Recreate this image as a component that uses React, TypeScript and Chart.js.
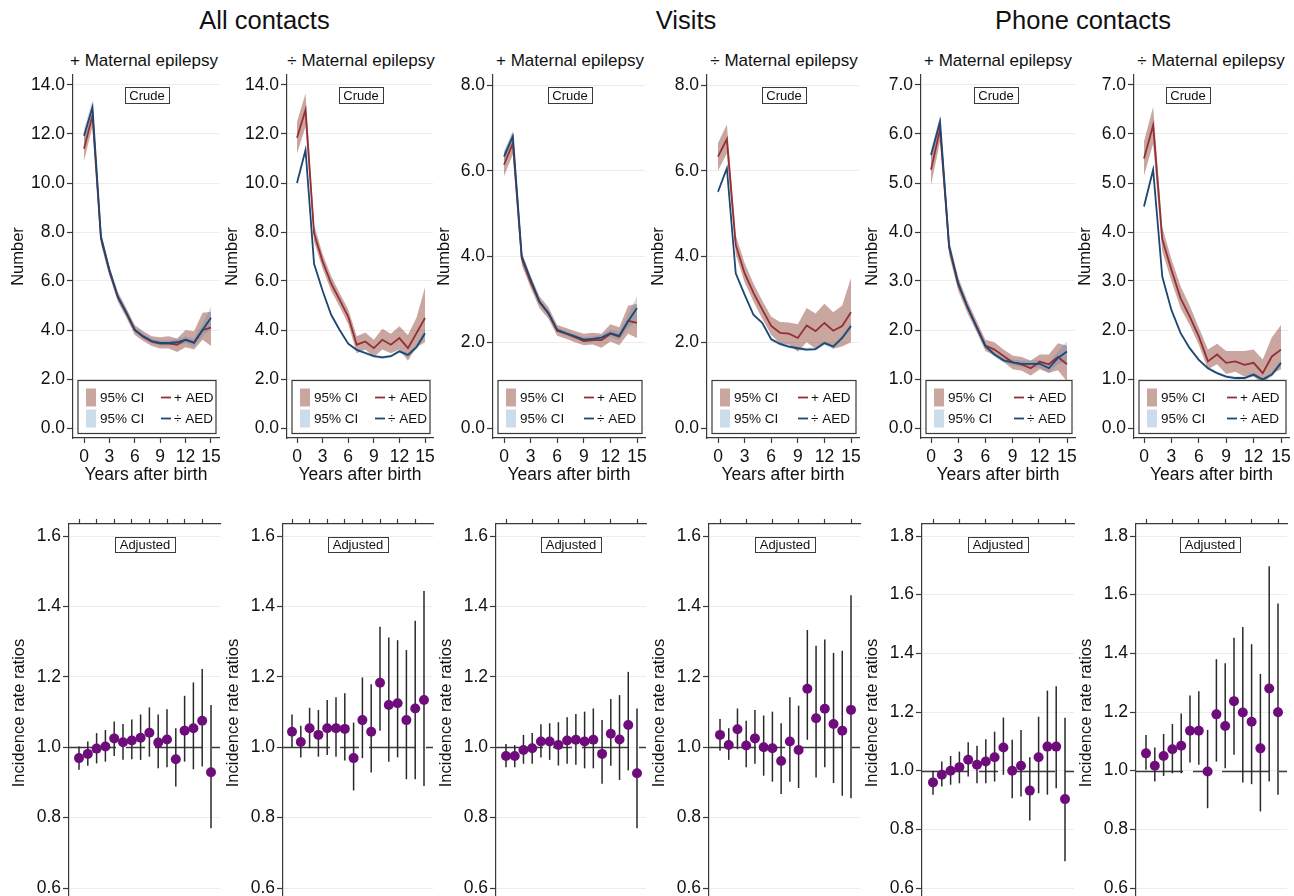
import React, { useEffect, useRef } from 'react';
import { Chart, registerables } from 'chart.js';
Chart.register(...registerables);

const FONT = '"Liberation Sans", Arial, Helvetica, sans-serif';
Chart.defaults.font.family = FONT;
Chart.defaults.color = '#111';

// ---------- DATA ----------
const YEARS = [0, 1, 2, 3, 4, 5, 6, 7, 8, 9, 10, 11, 12, 13, 14, 15];

const X_TICKS_TOP = [0, 3, 6, 9, 12, 15];
const X_TICKS_STEP2 = [0, 2, 4, 6, 8, 10, 12, 14];
const X_TICKS_STEP3 = [0, 3, 6, 9, 12, 15];
const Y_TICKS_ALL = [0, 2, 4, 6, 8, 10, 12, 14];
const Y_TICKS_VISITS = [0, 2, 4, 6, 8];
const Y_TICKS_PHONE = [0, 1, 2, 3, 4, 5, 6, 7];
const IRR_TICKS_A = [0.6, 0.8, 1.0, 1.2, 1.4, 1.6];
const IRR_TICKS_B = [0.6, 0.8, 1.0, 1.2, 1.4, 1.6, 1.8];

const GROUP_TITLES = ['All contacts', 'Visits', 'Phone contacts'];
const SUB_TITLES = ['+ Maternal epilepsy', '÷ Maternal epilepsy', '+ Maternal epilepsy', '÷ Maternal epilepsy', '+ Maternal epilepsy', '÷ Maternal epilepsy'];
const LEGEND_LABELS = ['95% CI', '95% CI', '+ AED', '÷ AED'];

// All contacts, + maternal epilepsy
const ALL_POS_RED_MID = [11.4, 12.75, 7.75, 6.4, 5.35, 4.7, 4.0, 3.72, 3.52, 3.45, 3.45, 3.4, 3.6, 3.5, 4.0, 4.1];
const ALL_POS_RED_LO = [10.9, 12.3, 7.5, 6.2, 5.15, 4.5, 3.8, 3.55, 3.35, 3.25, 3.25, 3.1, 3.3, 3.2, 3.6, 3.35];
const ALL_POS_RED_HI = [11.95, 13.2, 8.0, 6.6, 5.55, 4.9, 4.2, 3.95, 3.75, 3.7, 3.75, 3.65, 4.0, 3.95, 4.7, 4.75];
const ALL_POS_BLUE_MID = [11.93, 13.1, 7.8, 6.45, 5.35, 4.7, 4.0, 3.74, 3.55, 3.47, 3.47, 3.5, 3.6, 3.47, 4.0, 4.5];
const ALL_POS_BLUE_LO = [11.65, 12.8, 7.65, 6.3, 5.22, 4.57, 3.9, 3.64, 3.45, 3.37, 3.37, 3.38, 3.46, 3.3, 3.75, 4.05];
const ALL_POS_BLUE_HI = [12.2, 13.4, 7.95, 6.6, 5.48, 4.83, 4.1, 3.84, 3.65, 3.57, 3.57, 3.62, 3.74, 3.64, 4.25, 4.95];

// All contacts, ÷ maternal epilepsy
const ALL_NEG_RED_MID = [11.85, 12.98, 7.95, 6.8, 5.9, 5.23, 4.55, 3.4, 3.53, 3.26, 3.6, 3.4, 3.67, 3.26, 3.87, 4.49];
const ALL_NEG_RED_LO = [11.2, 12.3, 7.6, 6.5, 5.6, 4.95, 4.25, 3.05, 3.2, 2.9, 3.2, 3.05, 3.2, 2.75, 3.3, 3.5];
const ALL_NEG_RED_HI = [12.5, 13.65, 8.3, 7.1, 6.2, 5.5, 4.85, 3.75, 3.9, 3.6, 4.05, 3.85, 4.15, 3.8, 4.5, 5.75];
const ALL_NEG_BLUE_MID = [10.0, 11.35, 6.7, 5.6, 4.62, 4.0, 3.44, 3.19, 3.06, 2.93, 2.88, 2.93, 3.13, 2.98, 3.3, 3.87];
const ALL_NEG_BLUE_LO = [9.92, 11.26, 6.63, 5.53, 4.56, 3.94, 3.39, 3.14, 3.0, 2.87, 2.82, 2.87, 3.06, 2.9, 3.2, 3.72];
const ALL_NEG_BLUE_HI = [10.08, 11.44, 6.77, 5.67, 4.68, 4.06, 3.49, 3.24, 3.12, 2.99, 2.94, 2.99, 3.2, 3.06, 3.4, 4.02];

// Visits, + maternal epilepsy
const VIS_POS_RED_MID = [6.14, 6.64, 3.95, 3.4, 2.93, 2.68, 2.27, 2.2, 2.12, 2.03, 2.05, 2.05, 2.2, 2.13, 2.5, 2.45];
const VIS_POS_RED_LO = [5.87, 6.38, 3.8, 3.27, 2.8, 2.55, 2.15, 2.08, 2.0, 1.93, 1.95, 1.87, 2.02, 1.93, 2.2, 2.1];
const VIS_POS_RED_HI = [6.42, 6.9, 4.1, 3.55, 3.07, 2.82, 2.4, 2.33, 2.26, 2.2, 2.22, 2.2, 2.42, 2.35, 2.85, 2.9];
const VIS_POS_BLUE_MID = [6.33, 6.8, 4.0, 3.46, 2.95, 2.68, 2.29, 2.21, 2.14, 2.06, 2.08, 2.11, 2.21, 2.15, 2.49, 2.8];
const VIS_POS_BLUE_LO = [6.2, 6.66, 3.93, 3.39, 2.89, 2.62, 2.24, 2.16, 2.09, 2.01, 2.02, 2.05, 2.13, 2.05, 2.33, 2.5];
const VIS_POS_BLUE_HI = [6.46, 6.94, 4.07, 3.53, 3.01, 2.74, 2.34, 2.26, 2.19, 2.11, 2.14, 2.17, 2.29, 2.25, 2.65, 3.08];

// Visits, ÷ maternal epilepsy
const VIS_NEG_RED_MID = [6.33, 6.74, 4.27, 3.61, 3.15, 2.76, 2.38, 2.22, 2.2, 2.1, 2.39, 2.26, 2.45, 2.27, 2.38, 2.7];
const VIS_NEG_RED_LO = [6.0, 6.4, 4.05, 3.4, 2.95, 2.55, 2.17, 1.97, 1.95, 1.78, 2.0, 1.85, 2.0, 1.85, 1.9, 2.0];
const VIS_NEG_RED_HI = [6.65, 7.08, 4.5, 3.85, 3.37, 2.97, 2.6, 2.47, 2.46, 2.42, 2.8, 2.67, 2.9, 2.7, 2.86, 3.5];
const VIS_NEG_BLUE_MID = [5.51, 6.06, 3.61, 3.11, 2.64, 2.45, 2.07, 1.96, 1.9, 1.86, 1.83, 1.84, 1.98, 1.9, 2.1, 2.38];
const VIS_NEG_BLUE_LO = [5.46, 6.01, 3.57, 3.07, 2.6, 2.41, 2.03, 1.92, 1.86, 1.82, 1.79, 1.8, 1.93, 1.85, 2.04, 2.3];
const VIS_NEG_BLUE_HI = [5.56, 6.11, 3.65, 3.15, 2.68, 2.49, 2.11, 2.0, 1.94, 1.9, 1.87, 1.88, 2.03, 1.95, 2.16, 2.46];

// Phone contacts, + maternal epilepsy
const PHO_POS_RED_MID = [5.27, 6.1, 3.68, 2.93, 2.47, 2.08, 1.68, 1.6, 1.47, 1.34, 1.3, 1.22, 1.35, 1.3, 1.45, 1.3];
const PHO_POS_RED_LO = [4.95, 5.85, 3.53, 2.8, 2.35, 1.97, 1.57, 1.48, 1.35, 1.2, 1.17, 1.07, 1.2, 1.12, 1.18, 0.95];
const PHO_POS_RED_HI = [5.6, 6.35, 3.83, 3.07, 2.6, 2.2, 1.8, 1.75, 1.6, 1.48, 1.45, 1.38, 1.5, 1.5, 1.73, 1.68];
const PHO_POS_BLUE_MID = [5.57, 6.25, 3.71, 2.96, 2.48, 2.07, 1.67, 1.5, 1.38, 1.34, 1.31, 1.31, 1.31, 1.22, 1.43, 1.56];
const PHO_POS_BLUE_LO = [5.45, 6.12, 3.64, 2.9, 2.43, 2.02, 1.62, 1.45, 1.33, 1.28, 1.25, 1.24, 1.23, 1.13, 1.3, 1.36];
const PHO_POS_BLUE_HI = [5.69, 6.38, 3.78, 3.02, 2.53, 2.12, 1.72, 1.55, 1.43, 1.4, 1.37, 1.38, 1.39, 1.31, 1.56, 1.77];

// Phone contacts, ÷ maternal epilepsy
const PHO_NEG_RED_MID = [5.5, 6.18, 3.85, 3.23, 2.65, 2.28, 1.87, 1.36, 1.5, 1.33, 1.36, 1.29, 1.33, 1.12, 1.46, 1.6];
const PHO_NEG_RED_LO = [5.15, 5.8, 3.6, 3.0, 2.45, 2.1, 1.7, 1.2, 1.3, 1.1, 1.15, 1.05, 1.05, 0.9, 1.1, 1.2];
const PHO_NEG_RED_HI = [5.85, 6.55, 4.1, 3.45, 2.9, 2.5, 2.05, 1.6, 1.72, 1.57, 1.57, 1.57, 1.6, 1.4, 1.85, 2.1];
const PHO_NEG_BLUE_MID = [4.52, 5.27, 3.09, 2.41, 1.94, 1.63, 1.39, 1.22, 1.12, 1.05, 1.02, 1.02, 1.09, 0.99, 1.09, 1.33];
const PHO_NEG_BLUE_LO = [4.46, 5.2, 3.04, 2.37, 1.9, 1.6, 1.36, 1.19, 1.09, 1.02, 0.99, 0.99, 1.05, 0.95, 1.04, 1.27];
const PHO_NEG_BLUE_HI = [4.58, 5.34, 3.14, 2.45, 1.98, 1.66, 1.42, 1.25, 1.15, 1.08, 1.05, 1.05, 1.13, 1.03, 1.14, 1.39];

// Adjusted incidence rate ratios
const IRR_ALL_POS = [0.969, 0.981, 0.996, 1.002, 1.025, 1.014, 1.019, 1.027, 1.041, 1.013, 1.022, 0.966, 1.047, 1.054, 1.075, 0.929];
const IRR_ALL_POS_LO = [0.936, 0.947, 0.954, 0.959, 0.975, 0.964, 0.966, 0.964, 0.973, 0.94, 0.943, 0.888, 0.959, 0.937, 0.945, 0.77];
const IRR_ALL_POS_HI = [1.002, 1.016, 1.04, 1.049, 1.073, 1.066, 1.079, 1.093, 1.113, 1.093, 1.108, 1.054, 1.146, 1.184, 1.222, 1.12];

const IRR_ALL_NEG = [1.044, 1.015, 1.054, 1.035, 1.054, 1.054, 1.052, 0.969, 1.077, 1.044, 1.183, 1.12, 1.125, 1.077, 1.11, 1.134];
const IRR_ALL_NEG_LO = [1.0, 0.971, 0.997, 0.973, 0.978, 0.973, 0.962, 0.877, 0.969, 0.928, 1.047, 0.959, 0.971, 0.909, 0.909, 0.89];
const IRR_ALL_NEG_HI = [1.093, 1.061, 1.112, 1.106, 1.134, 1.142, 1.153, 1.07, 1.198, 1.179, 1.342, 1.312, 1.304, 1.276, 1.359, 1.444];

const IRR_VIS_POS = [0.975, 0.975, 0.992, 0.997, 1.016, 1.016, 1.006, 1.019, 1.021, 1.016, 1.021, 0.981, 1.038, 1.022, 1.063, 0.926];
const IRR_VIS_POS_LO = [0.943, 0.943, 0.953, 0.953, 0.971, 0.964, 0.948, 0.953, 0.95, 0.94, 0.94, 0.896, 0.947, 0.907, 0.934, 0.77];
const IRR_VIS_POS_HI = [1.009, 1.006, 1.035, 1.04, 1.065, 1.068, 1.071, 1.085, 1.094, 1.101, 1.11, 1.077, 1.137, 1.148, 1.214, 1.11];

const IRR_VIS_NEG = [1.035, 1.006, 1.051, 1.005, 1.025, 1.0, 0.997, 0.961, 1.016, 0.992, 1.166, 1.082, 1.109, 1.066, 1.047, 1.106];
const IRR_VIS_NEG_LO = [0.99, 0.964, 0.994, 0.943, 0.953, 0.919, 0.902, 0.867, 0.902, 0.884, 1.021, 0.914, 0.943, 0.898, 0.862, 0.855];
const IRR_VIS_NEG_HI = [1.08, 1.054, 1.11, 1.075, 1.106, 1.09, 1.101, 1.068, 1.142, 1.118, 1.333, 1.288, 1.306, 1.268, 1.274, 1.432];

const IRR_PHO_POS = [0.96, 0.986, 1.0, 1.012, 1.037, 1.02, 1.031, 1.046, 1.079, 1.0, 1.017, 0.932, 1.046, 1.082, 1.082, 0.903];
const IRR_PHO_POS_LO = [0.918, 0.946, 0.952, 0.957, 0.98, 0.957, 0.957, 0.963, 0.986, 0.906, 0.912, 0.83, 0.923, 0.918, 0.94, 0.691];
const IRR_PHO_POS_HI = [1.0, 1.031, 1.05, 1.065, 1.097, 1.085, 1.107, 1.133, 1.181, 1.105, 1.139, 1.046, 1.184, 1.273, 1.288, 1.18];

const IRR_PHO_NEG = [1.059, 1.017, 1.05, 1.073, 1.085, 1.136, 1.136, 0.997, 1.192, 1.152, 1.237, 1.198, 1.167, 1.076, 1.28, 1.199];
const IRR_PHO_NEG_LO = [1.003, 0.963, 0.982, 0.991, 0.991, 1.028, 1.02, 0.872, 1.031, 1.008, 1.054, 0.96, 0.954, 0.861, 0.963, 0.918];
const IRR_PHO_NEG_HI = [1.122, 1.079, 1.125, 1.159, 1.195, 1.256, 1.271, 1.139, 1.38, 1.366, 1.453, 1.49, 1.431, 1.33, 1.697, 1.57];

// ---------- STYLE ----------
const AXIS = '#3a3a3a';
const GRID = '#ececec';
const RED = '#962f35';
const BLUE = '#1d4872';
const RED_FILL = 'rgba(130,50,35,0.43)';
const BLUE_FILL = 'rgba(70,125,180,0.27)';
const PURPLE = '#6e0c7b';

type TopPanel = {
  L: number; p0: number; p15: number; yw: number; boxCx: number;
  yTicks: number[];
  redMid: number[]; redLo: number[]; redHi: number[];
  blueMid: number[]; blueLo: number[]; blueHi: number[];
};
type BotPanel = {
  L: number; p0: number; p15: number; boxCx: number;
  yTicks: number[]; xTicks: number[];
  irr: number[]; lo: number[]; hi: number[];
};

const TOP_PANELS: TopPanel[] = [
  { L: 73, p0: 84, p15: 211, yw: 70, boxCx: 147, yTicks: Y_TICKS_ALL, redMid: ALL_POS_RED_MID, redLo: ALL_POS_RED_LO, redHi: ALL_POS_RED_HI, blueMid: ALL_POS_BLUE_MID, blueLo: ALL_POS_BLUE_LO, blueHi: ALL_POS_BLUE_HI },
  { L: 287, p0: 297, p15: 425, yw: 70, boxCx: 361, yTicks: Y_TICKS_ALL, redMid: ALL_NEG_RED_MID, redLo: ALL_NEG_RED_LO, redHi: ALL_NEG_RED_HI, blueMid: ALL_NEG_BLUE_MID, blueLo: ALL_NEG_BLUE_LO, blueHi: ALL_NEG_BLUE_HI },
  { L: 493, p0: 504, p15: 637, yw: 64, boxCx: 570, yTicks: Y_TICKS_VISITS, redMid: VIS_POS_RED_MID, redLo: VIS_POS_RED_LO, redHi: VIS_POS_RED_HI, blueMid: VIS_POS_BLUE_MID, blueLo: VIS_POS_BLUE_LO, blueHi: VIS_POS_BLUE_HI },
  { L: 707, p0: 718, p15: 851, yw: 64, boxCx: 784, yTicks: Y_TICKS_VISITS, redMid: VIS_NEG_RED_MID, redLo: VIS_NEG_RED_LO, redHi: VIS_NEG_RED_HI, blueMid: VIS_NEG_BLUE_MID, blueLo: VIS_NEG_BLUE_LO, blueHi: VIS_NEG_BLUE_HI },
  { L: 921, p0: 931, p15: 1067, yw: 64, boxCx: 996, yTicks: Y_TICKS_PHONE, redMid: PHO_POS_RED_MID, redLo: PHO_POS_RED_LO, redHi: PHO_POS_RED_HI, blueMid: PHO_POS_BLUE_MID, blueLo: PHO_POS_BLUE_LO, blueHi: PHO_POS_BLUE_HI },
  { L: 1134, p0: 1144, p15: 1281, yw: 64, boxCx: 1188, yTicks: Y_TICKS_PHONE, redMid: PHO_NEG_RED_MID, redLo: PHO_NEG_RED_LO, redHi: PHO_NEG_RED_HI, blueMid: PHO_NEG_BLUE_MID, blueLo: PHO_NEG_BLUE_LO, blueHi: PHO_NEG_BLUE_HI },
];

const BOT_PANELS: BotPanel[] = [
  { L: 69, p0: 79, p15: 211, boxCx: 145, yTicks: IRR_TICKS_A, xTicks: X_TICKS_STEP2, irr: IRR_ALL_POS, lo: IRR_ALL_POS_LO, hi: IRR_ALL_POS_HI },
  { L: 283, p0: 292, p15: 424, boxCx: 358, yTicks: IRR_TICKS_A, xTicks: X_TICKS_STEP2, irr: IRR_ALL_NEG, lo: IRR_ALL_NEG_LO, hi: IRR_ALL_NEG_HI },
  { L: 496, p0: 506, p15: 637, boxCx: 571, yTicks: IRR_TICKS_A, xTicks: X_TICKS_STEP3, irr: IRR_VIS_POS, lo: IRR_VIS_POS_LO, hi: IRR_VIS_POS_HI },
  { L: 709, p0: 720, p15: 851, boxCx: 785, yTicks: IRR_TICKS_A, xTicks: X_TICKS_STEP3, irr: IRR_VIS_NEG, lo: IRR_VIS_NEG_LO, hi: IRR_VIS_NEG_HI },
  { L: 922, p0: 933, p15: 1065, boxCx: 998, yTicks: IRR_TICKS_B, xTicks: X_TICKS_STEP3, irr: IRR_PHO_POS, lo: IRR_PHO_POS_LO, hi: IRR_PHO_POS_HI },
  { L: 1136, p0: 1146, p15: 1278, boxCx: 1210, yTicks: IRR_TICKS_B, xTicks: X_TICKS_STEP3, irr: IRR_PHO_NEG, lo: IRR_PHO_NEG_LO, hi: IRR_PHO_NEG_HI },
];

const SUB_CX = [144, 361, 570, 784, 998, 1211];
const GROUP_CX = [264.5, 686, 1083];

// ---------- helpers ----------
const pts = (arr: number[]) => YEARS.map((x, i) => ({ x, y: arr[i] }));

function drawLabelBox(ctx: CanvasRenderingContext2D, text: string, cx: number, top: number, h: number) {
  ctx.save();
  ctx.font = `13px ${FONT}`;
  const w = Math.round(ctx.measureText(text).width + 9);
  const x0 = Math.round(cx - w / 2) + 0.5;
  const y0 = Math.round(top) + 0.5;
  ctx.fillStyle = '#fff';
  ctx.fillRect(x0, y0, w, h);
  ctx.strokeStyle = AXIS;
  ctx.lineWidth = 1;
  ctx.strokeRect(x0, y0, w, h);
  ctx.fillStyle = '#111';
  ctx.textAlign = 'center';
  ctx.textBaseline = 'middle';
  ctx.fillText(text, cx, y0 + h / 2 + 0.5);
  ctx.restore();
}

function drawLegend(ctx: CanvasRenderingContext2D, bottom: number, bl: number, br: number) {
  ctx.save();
  const top = Math.round(bottom - 58) + 0.5;
  const h = 53;
  const w = br - bl;
  ctx.fillStyle = '#fff';
  ctx.fillRect(bl, top, w, h);
  ctx.strokeStyle = AXIS;
  ctx.lineWidth = 1.2;
  ctx.strokeRect(bl, top, w, h);
  const rows = [top + 17, top + 38];
  const fills = [RED_FILL, BLUE_FILL];
  const lines = [RED, BLUE];
  ctx.font = `13.5px ${FONT}`;
  ctx.textBaseline = 'middle';
  ctx.textAlign = 'left';
  const lx = bl + Math.round(0.6 * w);
  rows.forEach((ry, i) => {
    ctx.fillStyle = fills[i];
    ctx.fillRect(bl + 8, ry - 9, 10, 18);
    ctx.fillStyle = '#111';
    ctx.fillText(LEGEND_LABELS[i], bl + 22, ry + 0.5);
    ctx.strokeStyle = lines[i];
    ctx.lineWidth = 1.8;
    ctx.beginPath();
    ctx.moveTo(lx, ry);
    ctx.lineTo(lx + 10, ry);
    ctx.stroke();
    ctx.fillStyle = '#111';
    ctx.fillText(LEGEND_LABELS[i + 2], lx + 13, ry + 0.5);
  });
  ctx.restore();
}

// ---------- configs ----------
const TOP_CANVAS_TOP = 70;
const TOP_CANVAS_H = 416;
const PAD_R = 8;

function topGeometry(p: TopPanel) {
  const R = p.p15 + 8;
  const left = p.L - p.yw;
  const width = p.yw + (R - p.L) + PAD_R;
  return { R, left, width };
}

function topConfig(p: TopPanel): any {
  const { R, left } = topGeometry(p);
  const ppy = (p.p15 - p.p0) / 15;
  const xmin = -(p.p0 - p.L) / ppy;
  const xmax = 15 + (R - p.p15) / ppy;
  const T = p.yTicks[p.yTicks.length - 1];
  const ppu = 343 / T;
  const ymin = -10 / ppu;
  const ymax = T + 10 / ppu;
  const band = (arr: number[], color: string, fill: any, order: number) => ({
    data: pts(arr), borderColor: 'transparent', borderWidth: 0, pointRadius: 0,
    backgroundColor: color, fill, order, tension: 0,
  });
  const line = (arr: number[], color: string, order: number) => ({
    data: pts(arr), borderColor: color, borderWidth: 1.8, pointRadius: 0, fill: false, order, tension: 0,
  });
  return {
    type: 'line',
    data: {
      datasets: [
        band(p.redHi, RED_FILL, '+1', 4),
        band(p.redLo, 'transparent', false, 4),
        band(p.blueHi, BLUE_FILL, '+1', 3),
        band(p.blueLo, 'transparent', false, 3),
        line(p.redMid, RED, 2),
        line(p.blueMid, BLUE, 1),
      ],
    },
    options: {
      responsive: false,
      animation: false,
      devicePixelRatio: 1,
      events: [],
      layout: { autoPadding: false, padding: { top: 5, left: 0, right: PAD_R, bottom: 0 } },
      plugins: { legend: { display: false }, title: { display: false }, tooltip: { enabled: false } },
      scales: {
        x: {
          type: 'linear', min: xmin, max: xmax,
          afterBuildTicks: (s: any) => { s.ticks = X_TICKS_TOP.map((v) => ({ value: v })); },
          afterFit: (s: any) => { s.height = 48; s.paddingLeft = 0; s.paddingRight = 0; },
          grid: { drawOnChartArea: false, drawTicks: true, tickLength: 5, tickColor: AXIS, tickWidth: 1.2 },
          border: { display: true, color: AXIS, width: 1.2 },
          ticks: { font: { size: 17.5, family: FONT }, color: '#111', padding: 3.5, maxRotation: 0, autoSkip: false, callback: (v: any) => String(v) },
          title: { display: true, text: 'Years after birth', font: { size: 17.5, family: FONT }, color: '#111', padding: { top: 0, bottom: 0.5 } },
        },
        y: {
          type: 'linear', min: ymin, max: ymax,
          afterBuildTicks: (s: any) => { s.ticks = p.yTicks.map((v) => ({ value: v })); },
          afterFit: (s: any) => { s.width = p.yw; s.paddingTop = 0; s.paddingBottom = 0; },
          grid: { color: GRID, lineWidth: 1, drawTicks: true, tickLength: 6, tickColor: AXIS, tickWidth: 1.2 },
          border: { display: true, color: AXIS, width: 1.2 },
          ticks: { font: { size: 17.5, family: FONT }, color: '#111', padding: 2, autoSkip: false, callback: (v: any) => Number(v).toFixed(1) },
          title: { display: true, text: 'Number', font: { size: 16.5, family: FONT }, color: '#111', padding: { top: 5.1, bottom: 0 } },
        },
      },
    },
    plugins: [{
      id: 'topDecor',
      afterDatasetsDraw(chart: any) {
        const ctx = chart.ctx;
        const a = chart.chartArea;
        drawLegend(ctx, a.bottom, p.L + 5 - left, p.p15 + 5 - left);
        drawLabelBox(ctx, 'Crude', p.boxCx - left, a.top + 12, 16);
      },
    }],
  };
}

const BOT_CANVAS_TOP = 490;
const BOT_CANVAS_H = 412;
const BOT_YW = 65;

function botGeometry(p: BotPanel) {
  const R = p.p15 + 9;
  const left = p.L - BOT_YW;
  const width = BOT_YW + (R - p.L) + PAD_R;
  return { R, left, width };
}

function botConfig(p: BotPanel): any {
  const { R, left } = botGeometry(p);
  const ppy = (p.p15 - p.p0) / 15;
  const xmin = -(p.p0 - p.L) / ppy;
  const xmax = 15 + (R - p.p15) / ppy;
  const T = p.yTicks[p.yTicks.length - 1];
  const ppu = 352 / (T - 0.6);
  const ymax = T + 12 / ppu;
  const ymin = 0.6 - 14 / ppu;
  return {
    type: 'scatter',
    data: {
      datasets: [{
        data: pts(p.irr), pointRadius: 5, pointHoverRadius: 5, pointBackgroundColor: PURPLE,
        pointBorderWidth: 0, pointBorderColor: PURPLE, showLine: false,
      }],
    },
    options: {
      responsive: false,
      animation: false,
      devicePixelRatio: 1,
      events: [],
      layout: { autoPadding: false, padding: { top: 0, left: 0, right: PAD_R, bottom: 0 } },
      plugins: { legend: { display: false }, title: { display: false }, tooltip: { enabled: false } },
      scales: {
        x: {
          type: 'linear', position: 'top', min: xmin, max: xmax,
          afterBuildTicks: (s: any) => { s.ticks = p.xTicks.map((v) => ({ value: v })); },
          afterFit: (s: any) => { s.height = 34; s.paddingLeft = 0; s.paddingRight = 0; },
          grid: { drawOnChartArea: false, drawTicks: true, tickLength: 5, tickColor: AXIS, tickWidth: 1.2 },
          border: { display: true, color: AXIS, width: 1.2 },
          ticks: { display: false },
        },
        y: {
          type: 'linear', min: ymin, max: ymax,
          afterBuildTicks: (s: any) => { s.ticks = p.yTicks.map((v) => ({ value: v })); },
          afterFit: (s: any) => { s.width = BOT_YW; s.paddingTop = 0; s.paddingBottom = 0; },
          grid: { color: GRID, lineWidth: 1, drawTicks: true, tickLength: 6, tickColor: AXIS, tickWidth: 1.2 },
          border: { display: true, color: AXIS, width: 1.2 },
          ticks: { font: { size: 17.5, family: FONT }, color: '#111', padding: 2, autoSkip: false, callback: (v: any) => Number(v).toFixed(1) },
          title: { display: true, text: 'Incidence rate ratios', font: { size: 16.5, family: FONT }, color: '#111', padding: { top: 5.1, bottom: 0 } },
        },
      },
    },
    plugins: [{
      id: 'botDecor',
      beforeDatasetsDraw(chart: any) {
        const { ctx, chartArea: a, scales } = chart;
        const xs = scales.x, ys = scales.y;
        ctx.save();
        const y1 = Math.round(ys.getPixelForValue(1)) + 0.5;
        ctx.strokeStyle = AXIS;
        ctx.lineWidth = 1.3;
        ctx.setLineDash([47, 10, 19, 10]);
        ctx.beginPath();
        ctx.moveTo(a.left, y1);
        ctx.lineTo(a.right, y1);
        ctx.stroke();
        ctx.setLineDash([]);
        ctx.strokeStyle = '#2a2a2a';
        ctx.lineWidth = 1.5;
        YEARS.forEach((yr, i) => {
          const px = xs.getPixelForValue(yr);
          ctx.beginPath();
          ctx.moveTo(px, ys.getPixelForValue(p.lo[i]));
          ctx.lineTo(px, ys.getPixelForValue(p.hi[i]));
          ctx.stroke();
        });
        ctx.restore();
      },
      afterDatasetsDraw(chart: any) {
        drawLabelBox(chart.ctx, 'Adjusted', p.boxCx - left, chart.chartArea.top + 13, 15);
      },
    }],
  };
}

function ChartCanvas({ left, top, width, height, build }: { left: number; top: number; width: number; height: number; build: () => any }) {
  const ref = useRef<HTMLCanvasElement>(null);
  useEffect(() => {
    const chart = new Chart(ref.current as HTMLCanvasElement, build());
    return () => chart.destroy();
  }, []);
  return (
    <canvas
      ref={ref}
      width={width}
      height={height}
      style={{ position: 'absolute', left, top, width, height }}
    />
  );
}

export default function App() {
  return (
    <div style={{ position: 'absolute', left: 0, top: 0, width: 1294, height: 896, overflow: 'hidden', background: '#fff', fontFamily: FONT, color: '#111' }}>
      {GROUP_TITLES.map((t, i) => (
        <div key={'g' + i} style={{ position: 'absolute', left: GROUP_CX[i] - 200, width: 400, top: 5, textAlign: 'center', fontSize: 25.5, lineHeight: '30px' }}>{t}</div>
      ))}
      {SUB_TITLES.map((t, i) => (
        <div key={'s' + i} style={{ position: 'absolute', left: SUB_CX[i] - 100, width: 200, top: 51, textAlign: 'center', fontSize: 17, lineHeight: '20px' }}>{t}</div>
      ))}
      {TOP_PANELS.map((p, i) => {
        const g = topGeometry(p);
        return <ChartCanvas key={'t' + i} left={g.left} top={TOP_CANVAS_TOP} width={g.width} height={TOP_CANVAS_H} build={() => topConfig(p)} />;
      })}
      {BOT_PANELS.map((p, i) => {
        const g = botGeometry(p);
        return <ChartCanvas key={'b' + i} left={g.left} top={BOT_CANVAS_TOP} width={g.width} height={BOT_CANVAS_H} build={() => botConfig(p)} />;
      })}
    </div>
  );
}
